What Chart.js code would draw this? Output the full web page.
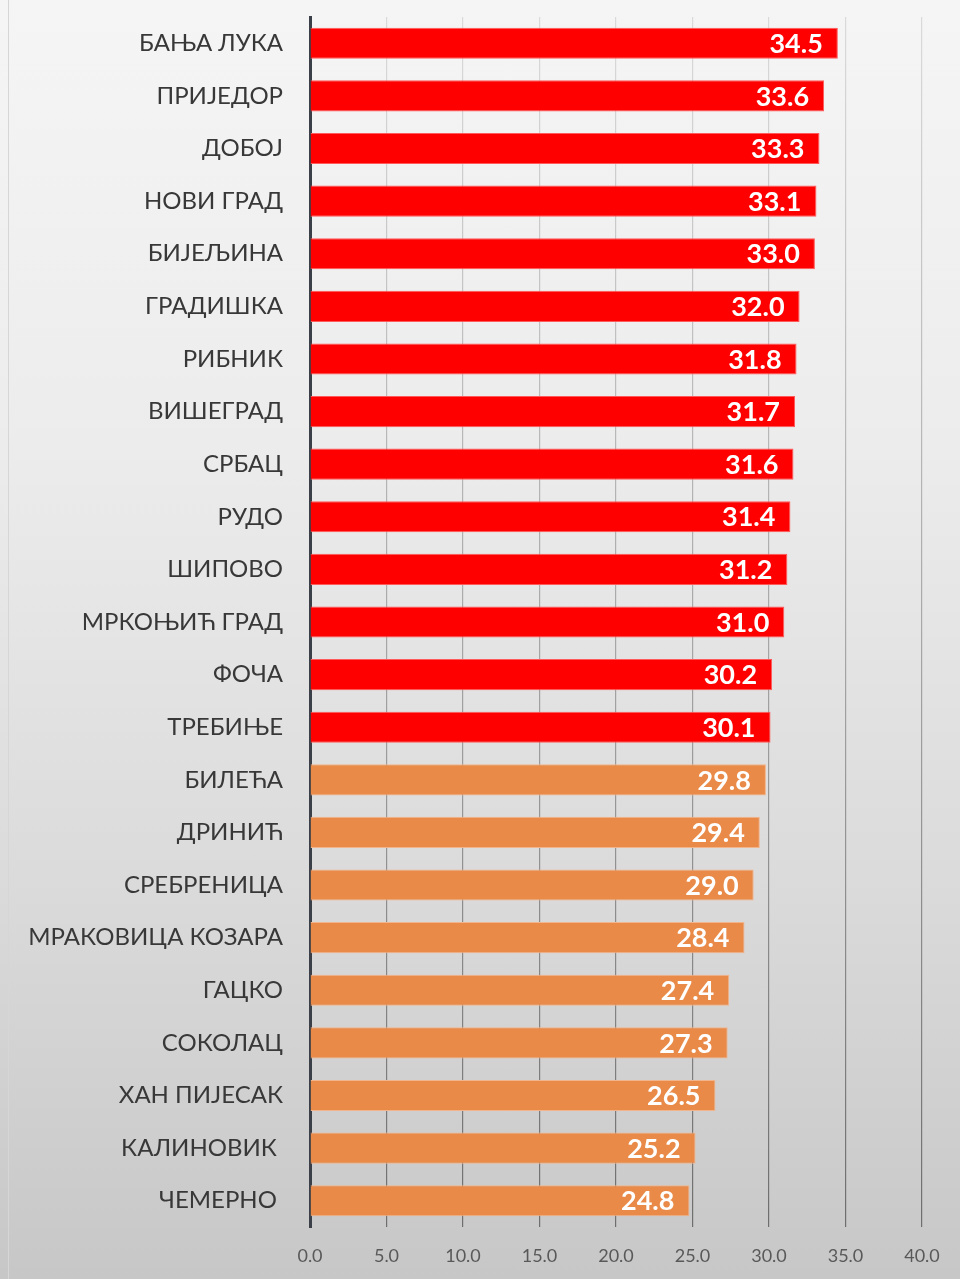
<!DOCTYPE html>
<html>
<head>
<meta charset="utf-8">
<script src="https://cdn.jsdelivr.net/npm/chart.js@4/dist/chart.umd.min.js"></script>
<style>
  html, body { margin: 0; padding: 0; }
  body {
    width: 960px; height: 1279px; overflow: hidden;
    background: linear-gradient(to bottom, #f5f5f5 0%, #ececec 35%, #dadada 70%, #c7c7c7 100%);
    position: relative;
  }
  .edge { position: absolute; left: 8px; top: 0; bottom: 0; border-left: 1px solid #d6d6d6; }
  .wrap { position: absolute; left: 0; top: 0; width: 960px; height: 1279px; }
</style>
</head>
<body>
<div class="edge"></div>
<div class="wrap"><canvas id="chart" width="960" height="1279"></canvas></div>
<script>
// ── Data ─────────────────────────────────────────────────────────────────────
const towns = [
  'БАЊА ЛУКА', 'ПРИЈЕДОР', 'ДОБОЈ', 'НОВИ ГРАД', 'БИЈЕЉИНА', 'ГРАДИШКА',
  'РИБНИК', 'ВИШЕГРАД', 'СРБАЦ', 'РУДО', 'ШИПОВО', 'МРКОЊИЋ ГРАД', 'ФОЧА',
  'ТРЕБИЊЕ', 'БИЛЕЋА', 'ДРИНИЋ', 'СРЕБРЕНИЦА', 'МРАКОВИЦА КОЗАРА', 'ГАЦКО',
  'СОКОЛАЦ', 'ХАН ПИЈЕСАК', 'КАЛИНОВИК ', 'ЧЕМЕРНО ',
];
const values = [
  34.5, 33.6, 33.3, 33.1, 33.0, 32.0, 31.8, 31.7, 31.6, 31.4, 31.2, 31.0, 30.2,
  30.1, 29.8, 29.4, 29.0, 28.4, 27.4, 27.3, 26.5, 25.2, 24.8,
];
const xMin = 0, xMax = 40, xStep = 5;
const threshold = 30;   // bars at or above this are red

const RED = '#ff0000';
const ORANGE = '#e98a48';

// ── Value labels inside bar ends ─────────────────────────────────────────────
const barLabels = {
  id: 'barLabels',
  afterDatasetsDraw(chart) {
    const { ctx } = chart;
    const meta = chart.getDatasetMeta(0);
    ctx.save();
    ctx.font = 'bold 27px Lato, "Open Sans", sans-serif';
    ctx.fillStyle = '#ffffff';
    ctx.textAlign = 'right';
    ctx.textBaseline = 'middle';
    meta.data.forEach((bar, i) => {
      ctx.fillText(values[i].toFixed(1), bar.x - 15, bar.y + 1);
    });
    ctx.restore();
  },
};

let gridGrad = null;
function gridColor(c) {
  const area = c.chart.chartArea;
  if (!area) return '#b0b0b0';
  if (!gridGrad) {
    gridGrad = c.chart.ctx.createLinearGradient(0, area.top, 0, area.bottom);
    gridGrad.addColorStop(0, '#dadada');
    gridGrad.addColorStop(0.5, '#a8a8a8');
    gridGrad.addColorStop(1, '#6e6e6e');
  }
  return gridGrad;
}

new Chart(document.getElementById('chart'), {
  type: 'bar',
  data: {
    labels: towns,
    datasets: [{
      data: values,
      backgroundColor: values.map(v => v >= threshold ? RED : ORANGE),
      borderColor: values.map(v => v >= threshold ? '#ff5a5a' : '#f2b48a'),
      borderWidth: 1,
      borderSkipped: 'start',
      barPercentage: 0.68,
      categoryPercentage: 0.87,
    }],
  },
  options: {
    indexAxis: 'y',
    responsive: false,
    animation: false,
    layout: { padding: { top: 17, right: 38, left: 0, bottom: 0 } },
    plugins: { legend: { display: false }, tooltip: { enabled: false } },
    scales: {
      x: {
        min: xMin, max: xMax,
        ticks: {
          stepSize: xStep,
          padding: 18,
          color: '#595959',
          font: { family: 'Lato, "Open Sans", sans-serif', size: 18 },
          callback: v => Number(v).toFixed(1),
        },
        grid: { color: gridColor, lineWidth: 1.2, drawTicks: false },
        border: { display: false },
        afterFit: s => { s.height = 52; },
      },
      y: {
        ticks: {
          padding: 27,
          color: '#383838',
          font: { family: 'Lato, "Open Sans", sans-serif', size: 24 },
        },
        grid: { display: false, drawTicks: false },
        border: { display: true, color: '#3a3f48', width: 3 },
        afterFit: s => { s.width = 310; s.paddingTop = 0; s.paddingBottom = 0; },
      },
    },
  },
  plugins: [barLabels],
});
</script>
</body>
</html>
